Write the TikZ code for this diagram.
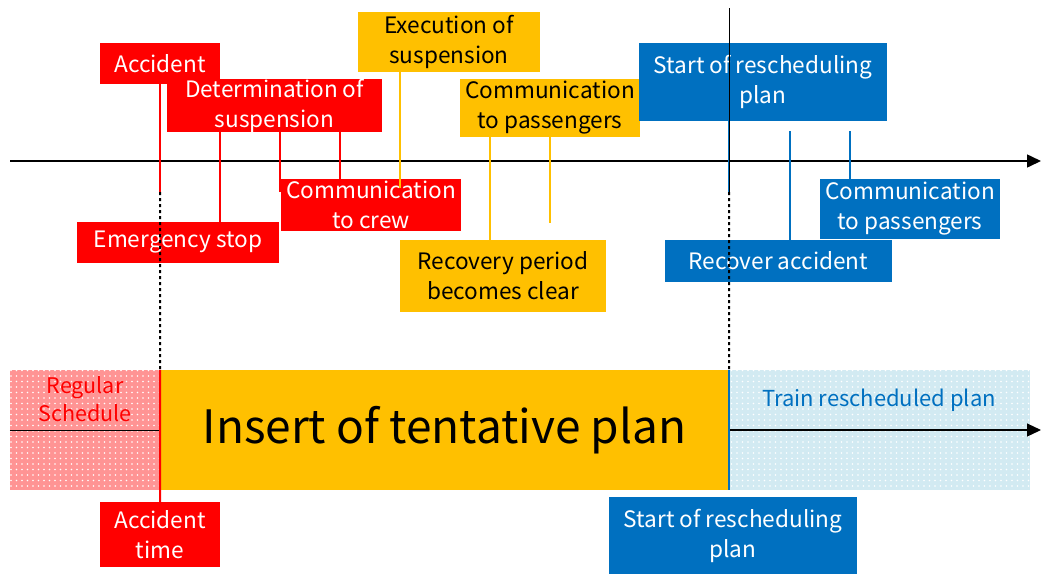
\documentclass[tikz,border=0pt]{standalone}
\usepackage{fontspec}
\setmainfont{Noto Sans CJK JP}
\usetikzlibrary{arrows.meta,patterns.meta}
\definecolor{accred}{HTML}{FF0000}
\definecolor{tentorange}{HTML}{FFC000}
\definecolor{planblue}{HTML}{0070C0}
\definecolor{regpink}{HTML}{FF9494}
\definecolor{reschedblue}{HTML}{D2EAF2}

\begin{document}
\begin{tikzpicture}[x=1pt,y=-1pt,
  box/.style={inner sep=0pt, align=center, font=\fontsize{22.6}{30}\selectfont},
  redbox/.style={box, fill=accred, text=white},
  orangebox/.style={box, fill=tentorange, text=black},
  bluebox/.style={box, fill=planblue, text=white},
  sz/.style 2 args={minimum width=#1pt, minimum height=#2pt},
  redlink/.style={accred, line width=2pt},
  orangelink/.style={tentorange, line width=2pt},
  bluelink/.style={planblue, line width=2pt},
  timeaxis/.style={line width=1.5pt, -{Triangle[length=14pt,width=13pt]}},
  cutline/.style={line width=2pt, dash pattern=on 3pt off 3pt},
  dotted band/.style={inner sep=0pt, postaction={pattern={Dots[distance=5.5pt,radius=0.9pt]}, pattern color=white}},
  bandtext/.style={inner sep=0pt, align=center, font=\fontsize{22}{28}\selectfont},
]
\fill[white] (0,0) rectangle (1041,574);
\useasboundingbox (0,0) rectangle (1041,574);

% time marks on the axis
\coordinate (tA) at (220,0);
\coordinate (tB) at (280,0);
\coordinate (tC) at (340,0);
\coordinate (tD) at (400,0);
\coordinate (tE) at (490,0);
\coordinate (tF) at (550,0);
\coordinate (tG) at (729,0);
\coordinate (tH) at (790,0);
\coordinate (tI) at (850,0);
\coordinate (axisL) at (10,161);
\coordinate (axisR) at (1041,161);
\coordinate (accEnd) at (160,192);
\coordinate (planTop) at (729,8);
\coordinate (execEnd) at (400,188);
\coordinate (paxEnd) at (550,223);
\coordinate (recStart) at (790,131);
\coordinate (bpaxStart) at (850,131);
\coordinate (planR) at (1041,430);

% schedule bands
\node[dotted band, fill=regpink, sz={150}{120}] (reg) at (85,430) {};
\node[inner sep=0pt, fill=tentorange, sz={569}{120}] (tent) at (444.5,430) {};
\node[dotted band, fill=reschedblue, sz={301}{120}] (resch) at (879.5,430) {};
\node[bandtext, font=\fontsize{21.5}{28}\selectfont, text=accred] (regtxt) at (85,399) {Regular\\Schedule};
\node[inner sep=0pt, font=\fontsize{46}{50}\selectfont] (tenttxt) at (444.5,430) {Insert of tentative plan};
\node[bandtext, text=planblue] (reschtxt) at (879,400) {Train rescheduled plan};

% accident events
\node[redbox, sz={120}{41}] (acc) at (160,63.5) {Accident};
\node[redbox, sz={215}{53}] (det) at (274.5,105.5) {Determination of\\suspension};
\node[redbox, sz={180}{52}] (crew) at (371,205) {Communication\\to crew};
\node[redbox, sz={202}{41}] (emg) at (178,242.5) {Emergency stop};
\node[redbox, sz={120}{65}] (acctime) at (160,534.5) {Accident\\time};

% tentative plan events
\node[orangebox, sz={182}{60}] (exec) at (449,42) {Execution of\\suspension};
\node[orangebox, sz={180}{58}] (opax) at (550,108) {Communication\\to passengers};
\node[orangebox, sz={206}{72}] (recov) at (503,276) {Recovery period\\becomes clear};

% rescheduled plan events
\node[bluebox, sz={248}{78}] (startTop) at (763,82) {Start of rescheduling\\plan};
\node[bluebox, sz={180}{60}] (bpax) at (910,209) {Communication\\to passengers};
\node[bluebox, sz={227}{42}] (recacc) at (778.5,261) {Recover accident};
\node[bluebox, sz={248}{77}] (startBot) at (733,535.5) {Start of rescheduling\\plan};

% time axes
\draw[timeaxis] (axisL) -- (axisR);
\draw[line width=1pt] (reg.west) -- (reg.east);
\draw[timeaxis, line width=1.2pt] (resch.west) -- (planR);

% connectors of accident events
\draw[redlink] (acc.south) -- (accEnd);
\draw[redlink] (det.south -| tA) -- (emg.north -| tA);
\draw[redlink] (det.south -| tB) -- (tB |- accEnd);
\draw[redlink] (det.south -| tC) -- (crew.north -| tC);
\draw[redlink] (reg.north east) -- (acctime.north);

% connectors of tentative plan events
\draw[orangelink] (exec.south -| tD) -- (execEnd);
\draw[orangelink] (opax.south -| tE) -- (recov.north -| tE);
\draw[orangelink] (opax.south -| tF) -- (paxEnd);

% connectors of rescheduled plan events
\draw[bluelink] (startTop.south -| tG) -- (tG |- accEnd);
\draw[line width=1pt] (planTop) -- (tG |- accEnd);
\draw[bluelink] (recStart) -- (recacc.north -| tH);
\draw[bluelink] (bpaxStart) -- (bpax.north -| tI);
\draw[bluelink] (resch.north west) -- (resch.south west);

% switch-over instants
\draw[cutline] (accEnd) -- (reg.north east);
\draw[cutline] (tG |- accEnd) -- (tent.north east);
\end{tikzpicture}
\end{document}
